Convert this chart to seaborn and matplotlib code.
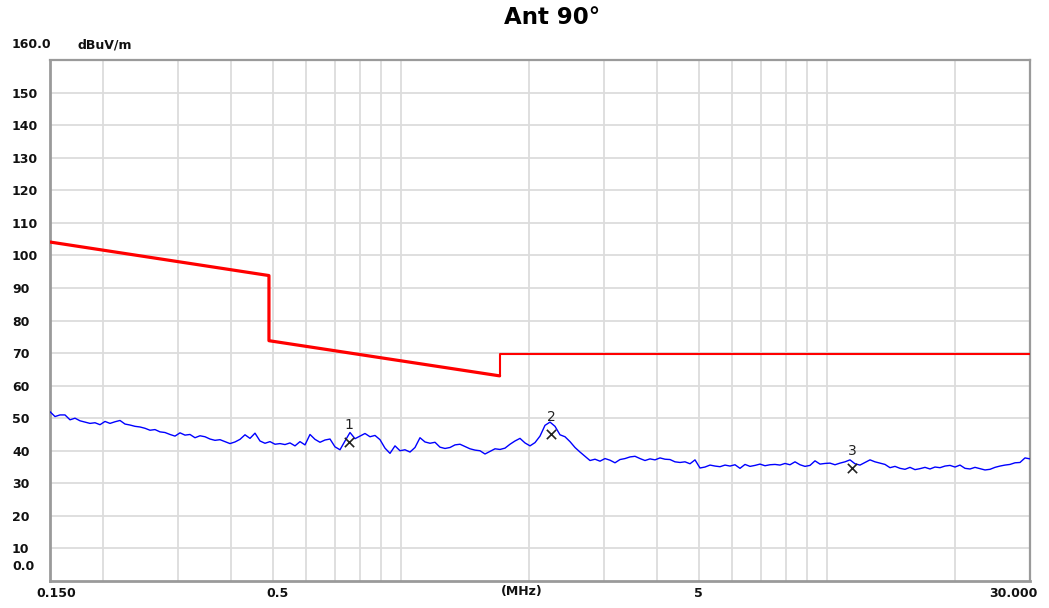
import numpy as np
import matplotlib
matplotlib.use('Agg')
import matplotlib.pyplot as plt
import seaborn as sns
from matplotlib.transforms import ScaledTranslation
from matplotlib.ticker import NullFormatter

# ---------------- data ----------------
f_start, f_stop = 0.15, 30.0  # MHz sweep range

level = [
    52.0, 50.5, 51.0, 51.0, 49.5, 50.0, 49.2, 48.8, 48.4, 48.6,
    48.0, 49.0, 48.4, 48.9, 49.3, 48.2, 47.9, 47.5, 47.3, 46.9,
    46.3, 46.5, 45.8, 45.6, 45.0, 44.5, 45.5, 44.8, 45.0, 44.0,
    44.6, 44.3, 43.6, 43.2, 43.4, 42.8, 42.2, 42.7, 43.5, 44.9,
    43.8, 45.4, 43.0, 42.3, 42.8, 42.0, 42.2, 41.9, 42.4, 41.5,
    42.8, 41.8, 45.0, 43.5, 42.6, 43.3, 43.6, 41.2, 40.3, 43.0,
    45.6, 43.7, 44.5, 45.3, 44.3, 44.7, 43.4, 40.8, 39.2, 41.5,
    40.0, 40.3, 39.6, 41.0, 44.0, 42.7, 42.3, 42.6, 41.1, 40.7,
    41.0, 41.8, 42.0, 41.3, 40.6, 40.2, 40.0, 39.0, 39.8, 40.6,
    40.4, 40.8, 42.0, 43.0, 43.8, 42.4, 41.5, 42.5, 44.5, 47.8,
    48.8, 47.5, 44.9, 44.3, 42.8, 41.0, 39.6, 38.3, 37.0, 37.4,
    36.8, 37.6, 37.1, 36.3, 37.3, 37.6, 38.1, 38.3, 37.6, 37.0,
    37.5, 37.2, 37.8, 37.4, 37.3, 36.6, 36.4, 36.6, 36.0, 37.2,
    34.7, 35.0, 35.6, 35.3, 35.1, 35.6, 35.3, 35.7, 34.6, 35.8,
    35.2, 35.5, 35.9, 35.4, 35.7, 35.8, 35.6, 36.1, 35.7, 36.6,
    35.7, 35.2, 35.5, 36.9, 35.9, 36.1, 36.2, 35.7, 36.2, 36.6,
    37.2, 36.0, 35.6, 36.4, 37.2, 36.6, 36.2, 35.8, 34.8, 35.2,
    34.6, 34.3, 34.9, 34.2, 34.5, 34.9, 34.4, 35.0, 34.8, 35.3,
    35.5, 35.0, 35.6, 34.6, 34.4, 34.9, 34.5, 34.1, 34.3, 34.9,
    35.3, 35.6, 35.8, 36.3, 36.4, 37.8, 37.5,
]
freq = np.geomspace(f_start, f_stop, len(level))

# limit line (FCC 15.209 @3 m)
limit_a_f = [0.15, 0.49, 0.49, 1.705]
limit_a_v = [104.1, 93.8, 73.8, 63.0]
limit_b_f = [1.705, 1.705, 30.0]
limit_b_v = [63.0, 69.8, 69.8]

# markers
marker_f = [0.756, 2.25, 11.46]
marker_v = [42.8, 45.2, 34.8]
marker_lbl = ['1', '2', '3']

# axes
y_ticks = [10, 20, 30, 40, 50, 60, 70, 80, 90, 100, 110, 120, 130, 140, 150]
x_ticks = [0.15, 0.5, 5, 30]
x_tick_lbls = ['0.150', '0.5', '5', '30.000']
x_tick_shift_px = [6, 5, 0, -17]
grid_f = [0.2, 0.3, 0.4, 0.5, 0.6, 0.7, 0.8, 0.9, 1, 2, 3, 4, 5, 6, 7, 8, 9, 10, 20]

# ---------------- plot ----------------
sns.set_style('white')
plt.rcParams['font.family'] = ['DejaVu Sans']

W, H = 1049, 608
fig = plt.figure(figsize=(W / 100, H / 100), dpi=100)
ax = fig.add_axes([50 / W, (H - 581) / H, 980 / W, 521 / H])
ax.set_xscale('log')
ax.set_xlim(f_start, f_stop)
ax.set_ylim(0, 160)

# grid
ax.set_xticks(grid_f, minor=True)
ax.xaxis.set_minor_formatter(NullFormatter())
ax.set_yticks(y_ticks)
ax.grid(True, which='both', color='#dcdcdc', lw=1.3, zorder=0)

sns.lineplot(x=freq, y=level, ax=ax, color='#0000ff', lw=1.0,
             estimator=None, sort=False, zorder=3)
sns.lineplot(x=limit_a_f, y=limit_a_v, ax=ax, color='#ff0000', lw=2.3,
             estimator=None, sort=False, zorder=4)
sns.lineplot(x=limit_b_f, y=limit_b_v, ax=ax, color='#ff0000', lw=1.5,
             estimator=None, sort=False, zorder=4)
sns.scatterplot(x=marker_f, y=marker_v, ax=ax, marker='x', color='#222222',
                s=45, linewidth=1.2, zorder=5)
for f, v, t in zip(marker_f, marker_v, marker_lbl):
    ax.annotate(t, xy=(f, v), xytext=(0, 10), textcoords='offset pixels',
                ha='center', va='bottom', fontsize=10, color='#222222', zorder=6)

# spines
for name, s in ax.spines.items():
    s.set_color('#9a9a9a')
    s.set_linewidth(2.0 if name in ('left', 'bottom') else 1.6)

# tick labels
lab_kw = dict(fontsize=9, fontweight='bold', color='#111111')
ax.tick_params(axis='both', which='both', length=0)
ax.tick_params(axis='y', pad=27.4)
ax.set_yticklabels([str(v) for v in y_ticks], **lab_kw)
for lbl in ax.get_yticklabels():
    lbl.set_horizontalalignment('left')

ax.set_xticks(x_ticks)
ax.set_xticklabels(x_tick_lbls, **lab_kw)
ax.tick_params(axis='x', pad=4)
for lbl, dx in zip(ax.get_xticklabels(), x_tick_shift_px):
    lbl.set_transform(lbl.get_transform() + ScaledTranslation(dx / 100, 0, fig.dpi_scale_trans))

ax.annotate('(MHz)', xy=(1.92, 0), xycoords=('data', 'axes fraction'),
            xytext=(0, -11), textcoords='offset pixels', ha='center', va='center', **lab_kw)
ax.annotate('0.0', xy=(0, 0), xycoords='axes fraction', xytext=(-38, 15),
            textcoords='offset pixels', ha='left', va='center', **lab_kw)
ax.annotate('160.0', xy=(0, 1), xycoords='axes fraction', xytext=(-38, 15),
            textcoords='offset pixels', ha='left', va='center', annotation_clip=False, **lab_kw)
ax.annotate('dBuV/m', xy=(0, 1), xycoords='axes fraction', xytext=(27, 15),
            textcoords='offset pixels', ha='left', va='center', annotation_clip=False, **lab_kw)
ax.set_xlabel('')
ax.set_ylabel('')

fig.text(552 / W, 1 - 18 / H, 'Ant 90°', ha='center', va='center',
         fontsize=16.5, fontweight='bold', color='black')

fig.savefig('out.png', dpi=100, facecolor='white')
